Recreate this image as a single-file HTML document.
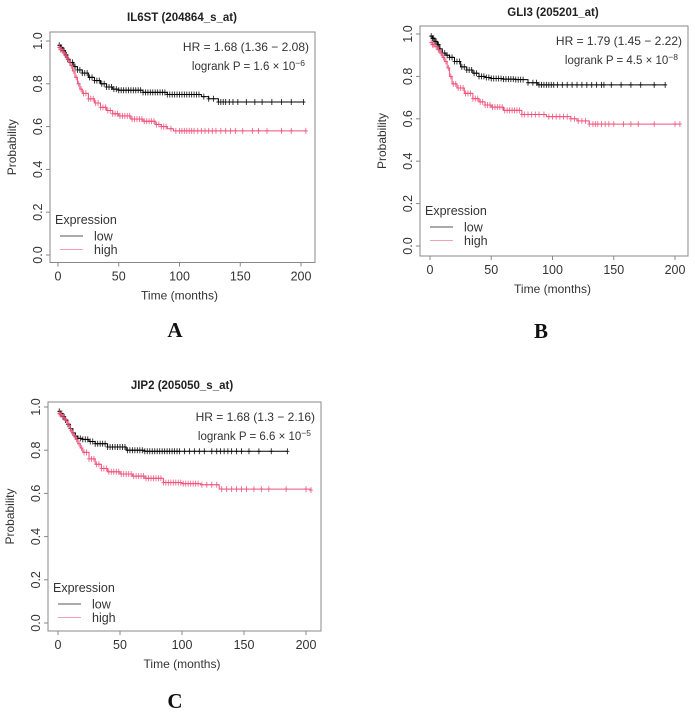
<!DOCTYPE html>
<html><head><meta charset="utf-8"><style>
body{margin:0;background:#fff;width:695px;height:714px;overflow:hidden}
svg{display:block}
text{font-family:"Liberation Sans",sans-serif}
</style></head><body>
<svg id="c" width="695" height="714"></svg>
<script>
// Panel A data
const aLowT=[0,2,4,6,8,10,13,16,20,25,30,35,40,45,50,70,90,110,118,124,132,202];
const aLowS=[0.98,0.97,0.955,0.935,0.915,0.9,0.88,0.865,0.85,0.83,0.815,0.8,0.785,0.775,0.77,0.76,0.75,0.75,0.74,0.73,0.715,0.715];
const aHighT=[0,2,4,6,8,10,12,14,16,18,20,25,30,35,40,45,50,60,70,80,85,90,95,204];
const aHighS=[0.97,0.96,0.945,0.93,0.91,0.885,0.86,0.83,0.8,0.775,0.755,0.73,0.71,0.69,0.675,0.66,0.65,0.635,0.625,0.61,0.6,0.59,0.58,0.58];
const aLowC=[1,2,3,4,5,6,7,8,10,12,14,16,18,20,22,24,26,28,30,32,34,36,38,40,42,44,46,48,50,52,54,56,58,60,62,64,66,68,70,72,74,76,78,80,82,84,86,88,90,92,94,96,98,100,102,104,106,108,110,112,114,116,120,124,128,132,134,136,138,141,144,148,155,162,168,176,184,192,202];
const aHighC=[1,2,3,5,7,9,11,13,15,17,19,21,23,25,27,29,31,33,35,37,39,41,43,45,47,49,51,53,55,57,59,61,63,65,67,69,71,73,75,77,79,81,83,85,87,89,93,97,100,102,104,106,108,110,112,115,118,121,124,127,130,134,138,142,146,152,160,165,172,184,192,204];
// Panel B data
const bLowT=[0,2,4,6,8,10,13,16,20,25,30,35,40,45,50,60,70,80,88,192];
const bLowS=[0.99,0.98,0.965,0.95,0.93,0.91,0.9,0.89,0.87,0.845,0.83,0.815,0.8,0.795,0.79,0.787,0.785,0.77,0.76,0.76];
const bHighT=[0,2,4,6,8,10,12,14,16,18,22,28,35,40,45,50,60,75,95,115,120,130,204];
const bHighS=[0.96,0.95,0.94,0.925,0.91,0.89,0.87,0.84,0.8,0.765,0.745,0.72,0.695,0.68,0.665,0.655,0.64,0.62,0.61,0.6,0.59,0.575,0.575];
const bLowC=[1,2,3,4,5,6,7,8,10,12,14,16,18,20,22,24,26,28,30,32,34,36,38,40,42,44,46,48,50,52,54,56,58,60,62,64,66,68,70,72,74,76,80,84,87,89,91,93,95,97,99,101,104,108,112,116,120,124,128,132,136,140,142,148,156,164,172,183,192];
const bHighC=[1,2,3,5,7,9,11,13,15,17,19,21,23,25,27,29,31,33,35,37,39,41,43,45,47,49,51,53,55,57,59,61,63,65,67,69,71,73,75,77,80,83,86,89,93,97,100,103,106,109,112,115,118,121,124,127,130,133,135,137,140,143,146,150,158,164,170,183,200,204];
// Panel C data
const cLowT=[0,2,4,6,8,10,12,14,16,20,25,30,40,55,70,185];
const cLowS=[0.98,0.97,0.955,0.94,0.92,0.9,0.88,0.865,0.855,0.85,0.84,0.83,0.815,0.8,0.795,0.795];
const cHighT=[0,2,4,6,8,10,12,14,16,18,20,25,30,35,40,50,60,70,85,100,115,130,204];
const cHighS=[0.97,0.965,0.95,0.935,0.915,0.89,0.87,0.85,0.83,0.81,0.79,0.76,0.735,0.715,0.7,0.69,0.68,0.67,0.65,0.645,0.64,0.62,0.615];
const cLowC=[1,2,3,4,5,6,8,10,12,14,16,18,20,22,24,26,28,30,32,34,36,38,40,42,44,46,48,50,52,54,56,58,60,62,64,66,68,70,72,74,76,78,80,82,84,86,88,90,92,94,96,98,102,106,110,114,118,124,128,131,134,137,140,144,148,154,162,172,185];
const cHighC=[1,2,3,5,7,9,11,13,15,17,19,21,23,25,27,29,31,33,35,37,39,41,43,45,47,49,51,53,55,57,59,61,63,65,67,69,71,73,75,77,79,81,83,85,87,89,91,93,95,97,99,101,103,105,107,109,111,113,116,120,124,128,132,136,140,144,148,152,158,164,170,184,200,204];
const xTicks=[0,50,100,150,200];
const yTicks=[0,0.2,0.4,0.6,0.8,1.0];

const NS="http://www.w3.org/2000/svg";
const svg=document.getElementById('c');
function mk(tag,attrs,parent,txt){const e=document.createElementNS(NS,tag);for(const k in attrs)e.setAttribute(k,attrs[k]);if(txt!==undefined)e.textContent=txt;(parent||svg).appendChild(e);return e;}
function stepAt(T,S,t){let s=S[0];for(let i=0;i<T.length;i++){if(T[i]<=t)s=S[i];}return s;}

const panels=[
 {id:'a',title:'IL6ST (204864_s_at)',box:[50,32,315,262.5],x0:58,x200:301,y1:41,y0:255,tx:182,ty:17,hr:'HR = 1.68 (1.36 − 2.08)',p:'1.6 × 10',pe:'−6',letter:'A',lx:175,ly:337,
  low:[aLowT,aLowS,aLowC],high:[aHighT,aHighS,aHighC]},
 {id:'b',title:'GLI3 (205201_at)',box:[420,26,688,256],x0:430,x200:675,y1:34,y0:246,tx:553,ty:12,hr:'HR = 1.79 (1.45 − 2.22)',p:'4.5 × 10',pe:'−8',letter:'B',lx:541,ly:338,
  low:[bLowT,bLowS,bLowC],high:[bHighT,bHighS,bHighC]},
 {id:'c',title:'JIP2 (205050_s_at)',box:[48,402,321,631],x0:58,x200:306,y1:407,y0:623,tx:182,ty:385,hr:'HR = 1.68 (1.3 − 2.16)',p:'6.6 × 10',pe:'−5',letter:'C',lx:175,ly:708,
  low:[cLowT,cLowS,cLowC],high:[cHighT,cHighS,cHighC]}
];

panels.forEach(P=>{
 const g=mk('g',{});
 
 
 const X=t=>P.x0+(P.x200-P.x0)*t/200;
 const Y=s=>P.y0+(P.y1-P.y0)*s;
 const [l,t,r,b]=P.box;
 const tt=mk('text',{x:P.tx,y:P.ty+4,'font-size':11.5,'font-weight':'bold','text-anchor':'middle',fill:'#222'},g,P.title);
 
 const bx=mk('rect',{x:l,y:t,width:r-l,height:b-t,fill:'none',stroke:'#888','stroke-width':1},g);
 
 xTicks.forEach(v=>{
  mk('line',{x1:X(v),x2:X(v),y1:b,y2:b+4,stroke:'#888'},g);
  const lb=mk('text',{x:X(v),y:b+18,'font-size':12.5,'text-anchor':'middle',fill:'#333'},g,String(v));
  
 });
 yTicks.forEach(v=>{
  mk('line',{x1:l,x2:l-4,y1:Y(v),y2:Y(v),stroke:'#888'},g);
  const lb=mk('text',{x:0,y:0,'font-size':12.5,'text-anchor':'middle',fill:'#333',transform:`translate(${l-8},${Y(v)}) rotate(-90)`},g,v.toFixed(1));
  
 });
 const xt=mk('text',{x:(P.x0+P.x200)/2,y:b+37,'font-size':12,'text-anchor':'middle',fill:'#333'},g,'Time (months)');
 
 const yt=mk('text',{x:0,y:0,'font-size':12,'text-anchor':'middle',fill:'#333',transform:`translate(${l-34},${(t+b)/2}) rotate(-90)`},g,'Probability');
 
 [['low','#000'],['high','#f0507a']].forEach(([k,col])=>{
  const [T,S,C]=P[k];
  let d=`M${X(T[0])},${Y(S[0])}`;
  for(let i=1;i<T.length;i++){d+=`H${X(T[i])}V${Y(S[i])}`;}
  const pth=mk('path',{d:d,fill:'none',stroke:col,'stroke-width':1},g);
  
  C.forEach(ct=>{
   const s=stepAt(T,S,ct);
   const m=mk('path',{d:`M${X(ct)},${Y(s)-3}V${Y(s)+3}M${X(ct)-2},${Y(s)}H${X(ct)+2}`,stroke:col,'stroke-width':0.9,opacity:0.85},g);
   
  });
 });
 const hr=mk('text',{x:r-6,y:t+19,'font-size':12,'text-anchor':'end',fill:'#333'},g,P.hr);
 
 const pv=mk('text',{x:r-10,y:t+38,'font-size':11.5,'text-anchor':'end',fill:'#333'},g);
 
 pv.appendChild(document.createTextNode('logrank  P = '+P.p));
 const sup=document.createElementNS(NS,'tspan');sup.setAttribute('dy','-4');sup.setAttribute('font-size','8.5');sup.textContent=P.pe;pv.appendChild(sup);
 const lg=mk('g',{},g);
 
 mk('text',{x:l+5,y:Y(0)-31,'font-size':12.5,fill:'#333'},lg,'Expression');
 const e1=mk('g',{},lg);
 mk('line',{x1:l+10,x2:l+33,y1:Y(0)-19,y2:Y(0)-19,stroke:'#555'},e1);
 mk('text',{x:l+44,y:Y(0)-14.5,'font-size':12.5,fill:'#333'},e1,'low');
 const e2=mk('g',{},lg);
 mk('line',{x1:l+10,x2:l+33,y1:Y(0)-5.5,y2:Y(0)-5.5,stroke:'#f5a0b0'},e2);
 mk('text',{x:l+44,y:Y(0)-1,'font-size':12.5,fill:'#333'},e2,'high');
 const lt=mk('text',{x:P.lx,y:P.ly,'font-size':21,'font-weight':'bold','text-anchor':'middle',fill:'#111',style:'font-family:"Liberation Serif",serif'},svg,P.letter);
 
});
</script>
</body></html>
